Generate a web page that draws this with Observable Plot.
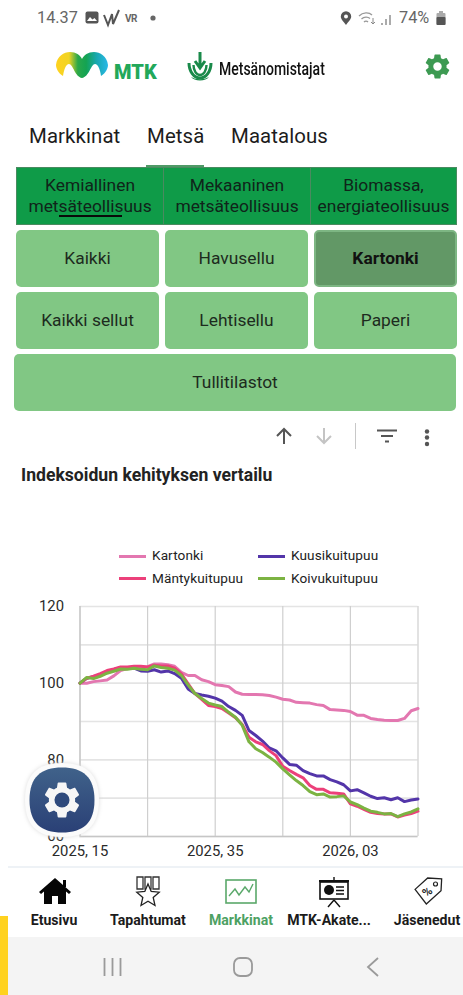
<!DOCTYPE html>
<html lang="fi"><head><meta charset="utf-8">
<script src="https://cdn.jsdelivr.net/npm/d3@7"></script>
<script src="https://cdn.jsdelivr.net/npm/@observablehq/plot@0.6"></script>
<style>
html,body{margin:0;padding:0;background:#fff}
body{position:relative;width:463px;height:995px;overflow:hidden;font-family:Roboto,sans-serif;color:#1a1a1a}
.a{position:absolute}
.t{position:absolute;white-space:nowrap}
.tab{font-size:20.4px;top:124px;color:#1c1c1c;letter-spacing:.1px}
.seg{position:absolute;top:167px;height:58px;background:#0f9b48;border:1px solid #4a8a60;box-sizing:border-box;text-align:center;font-size:17.4px;line-height:21px;padding-top:7px;color:#10241a;white-space:nowrap}
.btn{position:absolute;background:#81c784;border-radius:5px;display:flex;align-items:center;justify-content:center;font-size:17.4px;color:#1d2b1e;padding-bottom:2px;box-sizing:border-box}
.sw{position:absolute;width:27px;height:3px}
.leg{position:absolute;font-size:13.6px;color:#222;letter-spacing:.1px}
.nav{position:absolute;top:911.5px;font-size:14.1px;font-weight:700;color:#1b1b1b;transform:translateX(-50%);white-space:nowrap}
svg.ic{position:absolute;overflow:visible}
#chart{position:absolute;left:0;top:590px;width:463px}
#chart svg{display:block;background:transparent;overflow:visible}
</style></head><body>

<div class="t" style="left:37px;top:8px;font-size:16.3px;color:#666">14.37</div>
<svg class="ic" style="left:85px;top:11px" width="14" height="14"><rect x="0.5" y="0.5" width="13" height="12" rx="2" fill="#555"/><path d="M2 10 5 6 7.5 8.5 9.5 7 12 10z" fill="#fff"/></svg>
<svg class="ic" style="left:103px;top:9px" width="17" height="18"><path d="M1 6 5 16 9 5 10 15 16 1" fill="none" stroke="#555" stroke-width="2"/></svg>
<div class="t" style="left:125px;top:13px;font-size:10px;font-weight:700;color:#666;letter-spacing:-.5px">VR</div>
<svg class="ic" style="left:150px;top:15px" width="6" height="6"><circle cx="3" cy="3" r="2.6" fill="#666"/></svg>
<svg class="ic" style="left:340px;top:11px" width="12" height="15"><path d="M6 14C3 10 .8 8 .8 5.5a5.2 5.2 0 0 1 10.4 0C11.2 8 9 10 6 14z" fill="#555"/><circle cx="6" cy="5.5" r="2" fill="#fff"/></svg>
<svg class="ic" style="left:358px;top:11px" width="18" height="14"><path d="M1 5C5 1 11 1 14 4M3.5 8C6 5.5 10 5.5 12 7.5M6 11c1-1 3-1 4 0" fill="none" stroke="#999" stroke-width="1.3"/><path d="M15 7v6M13 11l2 2 2-2" fill="none" stroke="#888" stroke-width="1"/></svg>
<svg class="ic" style="left:381px;top:13px" width="12" height="12"><path d="M1 12V10M5 12V6M9 12V2" stroke="#888" stroke-width="1.4"/></svg>
<div class="t" style="left:399px;top:8px;font-size:16.3px;color:#666">74%</div>
<svg class="ic" style="left:436px;top:11px" width="10" height="14"><rect x="0.5" y="2" width="9" height="12" rx="1" fill="#aaa"/><rect x="0.5" y="6" width="9" height="8" rx="1" fill="#555"/><rect x="3" y="0" width="4" height="2" fill="#aaa"/></svg>

<svg class="ic" style="left:55px;top:50px" width="55" height="30">
<defs><linearGradient id="mtkg" x1="0" x2="1" y1="0" y2="0"><stop offset="0" stop-color="#ffd21f"/><stop offset=".25" stop-color="#f0d424"/><stop offset=".42" stop-color="#2aa84a"/><stop offset=".58" stop-color="#14a352"/><stop offset=".78" stop-color="#18a8b0"/><stop offset="1" stop-color="#2ab8e8"/></linearGradient></defs>
<path d="M1 15C2 6 9 2 15 2 21 2 25 5 27 9 29 5 33 2 39 2 45 2 52 6 53 15 53 18 51 23 46 26 45 19 43 14 40 14 36 14 34 27 27 28 20 27 18 14 14 14 11 14 9 19 8 26 3 23 1 18 1 15z" fill="url(#mtkg)"/>
</svg>
<div class="t" style="left:114px;top:60px;font-size:20px;font-weight:900;color:#22a85a;letter-spacing:.1px">MTK</div>

<svg class="ic" style="left:186px;top:51px" width="28" height="34">
<g fill="none" stroke="#1a8a4a"><path d="M3 12a11 15 0 0 0 22 0" stroke-width="3"/><path d="M7.500 14a6.500 10 0 0 0 13 0" stroke-width="2.400"/></g>
<path d="M14 1v15M9 10l5 7 5-7" fill="none" stroke="#1a8a4a" stroke-width="3"/>
<path d="M5 26a10 6 0 0 0 18 0a14 10 0 0 1 -18 0z" fill="#1a8a4a"/></svg>
<div class="t" style="left:219px;top:59px;font-size:17.5px;font-weight:500;color:#111;transform-origin:left;transform:scaleX(.8)">Metsänomistajat</div>

<svg class="ic" style="left:423px;top:52px" width="29" height="29" viewBox="0 0 24 24"><path fill="#3d9a52" d="M19.43 12.98c.04-.32.07-.64.07-.98s-.03-.66-.07-.98l2.11-1.65c.19-.15.24-.42.12-.64l-2-3.46c-.12-.22-.39-.3-.61-.22l-2.49 1c-.52-.4-1.08-.73-1.69-.98l-.38-2.65C14.46 2.18 14.25 2 14 2h-4c-.25 0-.46.18-.49.42l-.38 2.65c-.61.25-1.17.59-1.69.98l-2.49-1c-.23-.09-.49 0-.61.22l-2 3.46c-.13.22-.07.49.12.64l2.11 1.65c-.04.32-.07.65-.07.98s.03.66.07.98l-2.11 1.65c-.19.15-.24.42-.12.64l2 3.46c.12.22.39.3.61.22l2.49-1c.52.4 1.08.73 1.69.98l.38 2.65c.03.24.24.42.49.42h4c.25 0 .46-.18.49-.42l.38-2.65c.61-.25 1.17-.59 1.69-.98l2.49 1c.23.09.49 0 .61-.22l2-3.46c.12-.22.07-.49-.12-.64l-2.11-1.65zM12 15.5c-1.93 0-3.5-1.57-3.5-3.5s1.57-3.5 3.5-3.5 3.5 1.57 3.5 3.5-1.57 3.5-3.5 3.5z"/></svg>

<div class="t tab" style="left:29px">Markkinat</div>
<div class="t tab" style="left:147px">Metsä</div>
<div class="t tab" style="left:231px">Maatalous</div>
<div class="a" style="left:146px;top:165px;width:58px;height:3px;background:#4f9a66"></div>

<div class="seg" style="left:16px;width:148px">Kemiallinen<br>metsäteollisuus</div>
<div class="seg" style="left:163px;width:148px">Mekaaninen<br>metsäteollisuus</div>
<div class="seg" style="left:310px;width:147px">Biomassa,<br>energiateollisuus</div>
<div class="a" style="left:59px;top:215px;width:63px;height:2.4px;background:#0a0a0a"></div>

<div class="btn" style="left:16px;top:230px;width:143px;height:57px">Kaikki</div>
<div class="btn" style="left:165px;top:230px;width:143px;height:57px">Havusellu</div>
<div class="btn" style="left:314px;top:230px;width:143px;height:57px;background:#629866;border:2px solid #7db683;font-weight:700;color:#111">Kartonki</div>
<div class="btn" style="left:16px;top:292px;width:143px;height:57px">Kaikki sellut</div>
<div class="btn" style="left:165px;top:292px;width:143px;height:57px">Lehtisellu</div>
<div class="btn" style="left:314px;top:292px;width:143px;height:57px">Paperi</div>
<div class="btn" style="left:14px;top:354px;width:442px;height:57px">Tullitilastot</div>

<svg class="ic" style="left:275px;top:427px" width="18" height="18"><path d="M9 17V2M2 9l7-7 7 7" fill="none" stroke="#555" stroke-width="2"/></svg>
<svg class="ic" style="left:315px;top:427px" width="18" height="18"><path d="M9 1v15M2 9l7 7 7-7" fill="none" stroke="#c4c4c4" stroke-width="2"/></svg>
<div class="a" style="left:355px;top:423px;width:1px;height:26px;background:#c8c8c8"></div>
<svg class="ic" style="left:377px;top:429px" width="20" height="14"><path d="M0 1.500h20M4 7h12M8 12.500h4" stroke="#555" stroke-width="2"/></svg>
<svg class="ic" style="left:424px;top:429px" width="6" height="18"><circle cx="3" cy="2.500" r="2.200" fill="#555"/><circle cx="3" cy="8.500" r="2.200" fill="#555"/><circle cx="3" cy="15" r="2.200" fill="#555"/></svg>

<div class="t" style="left:21px;top:465px;font-size:17.6px;font-weight:700;color:#222">Indeksoidun kehityksen vertailu</div>

<div class="sw" style="left:119px;top:554.5px;background:#e377b0"></div><div class="leg" style="left:152px;top:547px">Kartonki</div>
<div class="sw" style="left:258px;top:554.5px;background:#5335a9"></div><div class="leg" style="left:291px;top:547px">Kuusikuitupuu</div>
<div class="sw" style="left:119px;top:577px;background:#ec407a"></div><div class="leg" style="left:152px;top:569.5px">Mäntykuitupuu</div>
<div class="sw" style="left:258px;top:577px;background:#7cb342"></div><div class="leg" style="left:291px;top:569.5px">Koivukuitupuu</div>

<div id="chart"></div>

<div class="a" style="left:8px;top:866px;width:455px;height:2px;background:#eef2f6"></div>
<div class="a" style="left:0;top:916px;width:8px;height:79px;background:#ffd21f"></div>
<div class="a" style="left:8px;top:937px;width:455px;height:58px;background:#f4f4f4"></div>

<svg class="ic" style="left:39px;top:878px" width="32" height="26"><path d="M16 0 0 14l2 2 3-2.500V26h8v-8h6v8h8V13.500l3 2.500 2-2z" fill="#050505"/><rect x="24" y="2" width="3" height="7" fill="#050505"/></svg>
<svg class="ic" style="left:135px;top:876px" width="26" height="32"><path d="M2 1h6v12H2zM10 1h6v12h-6zM18 1h6v12h-6z" fill="none" stroke="#333" stroke-width="1.300"/><path d="M13 8l3.200 7.500 8 .7-6 5.300 1.800 8-7-4.200-7 4.200 1.800-8-6-5.300 8-.7z" fill="#fff" stroke="#222" stroke-width="1.300"/></svg>
<svg class="ic" style="left:225px;top:879px" width="32" height="25"><rect x="1" y="1" width="30" height="23" fill="none" stroke="#5aa86a" stroke-width="1.600"/><path d="M4 17 10 10 14 16 20 8 24 13 28 5" fill="none" stroke="#5aa86a" stroke-width="1.400"/></svg>
<svg class="ic" style="left:318px;top:877px" width="32" height="30"><path d="M1 4h30" stroke="#111" stroke-width="2"/><rect x="2" y="5" width="28" height="17" fill="#fff" stroke="#111" stroke-width="1.600"/><circle cx="11" cy="13" r="5" fill="#111"/><path d="M18 10h8M18 13.500h8M18 17h8" stroke="#111" stroke-width="1.300"/><path d="M16 23l-6 7M16 23l6 7M16 0v3" stroke="#111" stroke-width="1.400"/></svg>
<svg class="ic" style="left:412px;top:876px" width="31" height="31"><path d="M3 14 15 2l14 0 0 12-14 14z" fill="#fff" stroke="#222" stroke-width="1.300" transform="rotate(3 15 15)"/><circle cx="23.500" cy="8" r="2" fill="none" stroke="#222" stroke-width="1.200"/><text x="11" y="20" font-size="12" font-weight="700" fill="#222" transform="rotate(-40 15 16)">%</text></svg>

<div class="nav" style="left:54px">Etusivu</div>
<div class="nav" style="left:148px">Tapahtumat</div>
<div class="nav" style="left:241px;color:#4da163">Markkinat</div>
<div class="nav" style="left:329px">MTK-Akate...</div>
<div class="nav" style="left:427px">Jäsenedut</div>

<svg class="ic" style="left:103px;top:957px" width="20" height="20"><path d="M1.500 1v18M9.500 1v18M17.500 1v18" stroke="#9a9a9a" stroke-width="1.800"/></svg>
<svg class="ic" style="left:233px;top:957px" width="20" height="20"><rect x="1" y="1" width="18" height="18" rx="6" fill="none" stroke="#9a9a9a" stroke-width="1.800"/></svg>
<svg class="ic" style="left:367px;top:957px" width="12" height="20"><path d="M11 1 1 10l10 9" fill="none" stroke="#9a9a9a" stroke-width="1.800"/></svg>

<svg class="ic" style="left:24px;top:762px;filter:drop-shadow(0 0 2px #ddd)" width="76" height="76" viewBox="0 0 76 76">
<defs><linearGradient id="gb" x1="0" x2="0" y1="0" y2="1"><stop offset="0" stop-color="#40628a"/><stop offset="1" stop-color="#2a4076"/></linearGradient></defs>
<path d="M38 1C62 1 75 12 75 38S62 75 38 75 1 64 1 38 14 1 38 1z" fill="#fbfbfb"/>
<path d="M38 5.500C59 5.500 70.500 15 70.500 38S59 70.500 38 70.500 5.500 61 5.500 38 17 5.500 38 5.500z" fill="url(#gb)"/>
<g transform="translate(17 17) scale(1.750)"><path fill="#f6f6f6" d="M19.43 12.98c.04-.32.07-.64.07-.98s-.03-.66-.07-.98l2.11-1.65c.19-.15.24-.42.12-.64l-2-3.46c-.12-.22-.39-.3-.61-.22l-2.49 1c-.52-.4-1.08-.73-1.69-.98l-.38-2.65C14.46 2.18 14.25 2 14 2h-4c-.25 0-.46.18-.49.42l-.38 2.65c-.61.25-1.17.59-1.69.98l-2.49-1c-.23-.09-.49 0-.61.22l-2 3.46c-.13.22-.07.49.12.64l2.11 1.65c-.04.32-.07.65-.07.98s.03.66.07.98l-2.11 1.65c-.19.15-.24.42-.12.64l2 3.46c.12.22.39.3.61.22l2.49-1c.52.4 1.08.73 1.69.98l.38 2.65c.03.24.24.42.49.42h4c.25 0 .46-.18.49-.42l.38-2.65c.61-.25 1.17-.59 1.69-.98l2.49 1c.23.09.49 0 .61-.22l2-3.46c.12-.22.07-.49-.12-.64l-2.11-1.65z"/><circle cx="12" cy="12" r="4.300" fill="#2f4a7c"/></g>
</svg>

<script>
const weekLabels = {0: "2025, 15", 20: "2025, 35", 40: "2026, 03"};
const xTicks = [0, 10, 20, 30, 40, 50];
const yLabelTicks = [60, 80, 100, 120];
const yGridTicks = [60, 70, 80, 90, 100, 110, 120];
const seriesNames = ["Kartonki", "Kuusikuitupuu", "Mäntykuitupuu", "Koivukuitupuu"];
const seriesColors = ["#e377b0", "#5335a9", "#ec407a", "#7cb342"];

const kartonki = [100,100,100.4,100.6,100.8,101.9,103.3,103.8,104,104.2,104.3,105,105,104.8,104.4,102.8,102,102,100.9,100.4,99.6,99.4,99.1,97.7,97.1,97.04,97.04,97,96.8,96.35,95.8,95.6,95,94.9,94.8,94.4,94.2,93.1,93,92.9,92.6,91.65,91.6,90.8,90.5,90.35,90.25,90.25,90.8,92.8,93.4];
const kuusikuitupuu = [100,101.3,101.7,102.2,103,103.6,104,103.9,103.9,103.2,103.1,103.5,102.9,103.2,102.5,101.3,98.5,97.3,96.9,96.6,96.1,95.3,93.9,92.9,91.6,87.65,86.35,84.9,83.1,82.35,80.5,78.8,78.6,77.2,76.4,75.8,75.8,74.85,74.25,73.5,71.9,72.2,71.4,70.5,69.9,70.1,69.6,70.1,69.1,69.5,69.8];
const mantykuitupuu = [100,101.3,101.8,102.5,103.3,103.7,104.2,104.2,104.4,104.4,104.2,104.7,104.5,104.5,103.9,102.4,99.8,97.3,95.8,94.2,93.9,93.4,92.2,91,89.2,85.9,84.7,84,82.4,81.1,78.3,77.2,76.2,75.3,73.3,72.3,72.3,71.4,71.3,71.1,68.5,67.9,67.1,66.3,66,65.9,65.9,65.1,65.6,66,66.6];
const koivukuitupuu = [100,101.5,101.2,101.8,102.6,103.1,103.7,103.6,103.9,103.6,103.5,104.5,104.1,103.9,103.4,102,99.5,97.3,96,94.8,94.3,93.9,92.4,91.1,89,84.7,82.9,81.9,80.7,79.4,77.65,76.1,74.6,73.3,71.7,70.9,71.1,70.3,70.4,70.6,69,68.3,67.4,66.6,66.3,65.9,66,65.2,65.9,66.4,67.2];

const table = [kartonki, kuusikuitupuu, mantykuitupuu, koivukuitupuu].flatMap((vals, k) =>
  vals.map((v, i) => ({week: i, value: v, series: seriesNames[k]})));

const chart = Plot.plot({
  width: 463, height: 276,
  marginLeft: 79.5, marginRight: 45.5, marginTop: 16, marginBottom: 30,
  style: {fontFamily: "Roboto, sans-serif", fontSize: "14.8px", color: "#2a2a2a", background: "transparent"},
  x: {domain: [0, 50], label: null},
  y: {domain: [60, 120], label: null},
  color: {domain: seriesNames, range: seriesColors},
  marks: [
    Plot.ruleY(yGridTicks, {stroke: "#e4e4e4", strokeWidth: 1.6, strokeOpacity: 1}),
    Plot.ruleX(xTicks, {stroke: "#cfcfcf", strokeWidth: 1.2, strokeOpacity: 1}),
    Plot.ruleX([0], {stroke: "#c6c6c6", strokeWidth: 1.2}),
    Plot.ruleY([60], {stroke: "#c6c6c6", strokeWidth: 1.4}),
    Plot.axisY({ticks: yLabelTicks, tickSize: 0, tickPadding: 16, label: null, fill: "#2a2a2a"}),
    Plot.axisX({ticks: Object.keys(weekLabels).map(Number), tickSize: 0, tickPadding: 9, label: null, fill: "#2a2a2a", tickFormat: d => weekLabels[d]}),
    Plot.line(table, {x: "week", y: "value", z: "series", stroke: "series", strokeWidth: 3, strokeLinejoin: "round"})
  ]
});
document.getElementById("chart").appendChild(chart);
</script>
</body></html>
